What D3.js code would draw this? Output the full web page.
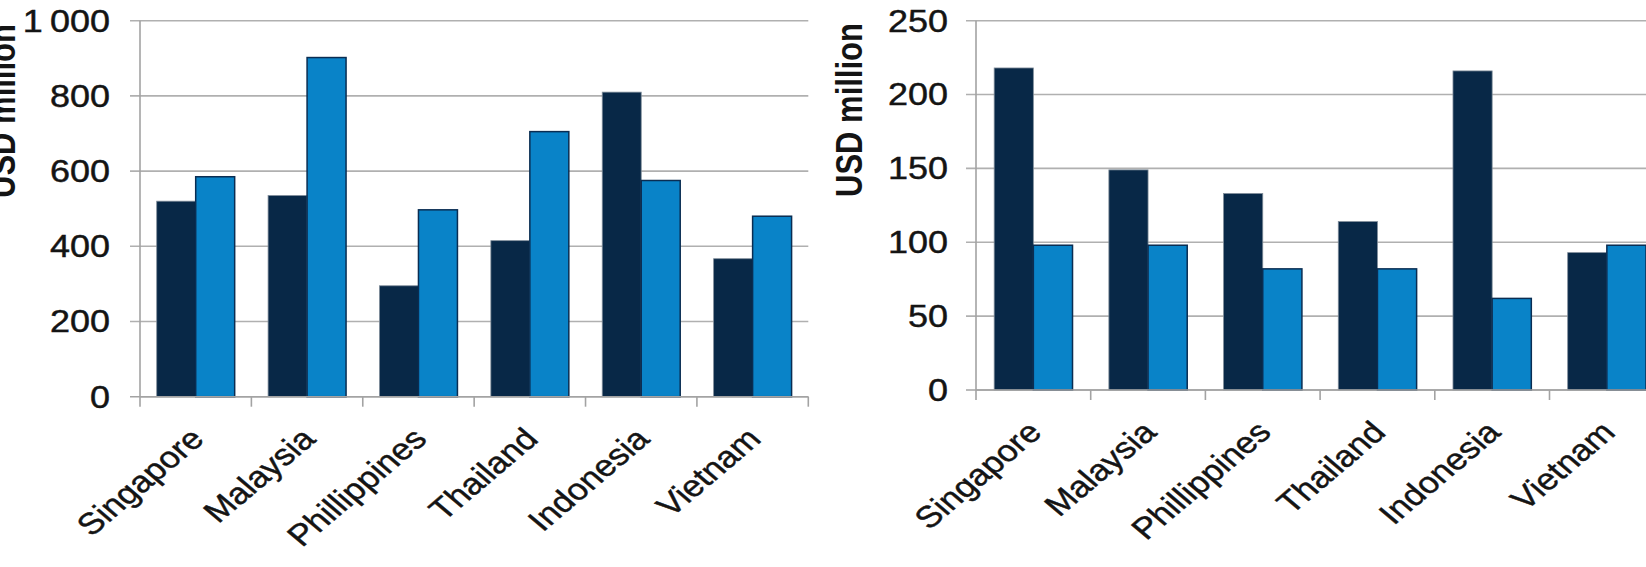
<!DOCTYPE html>
<html>
<head>
<meta charset="utf-8">
<script src="https://cdn.jsdelivr.net/npm/d3@7"></script>
<style>
  html, body { margin: 0; padding: 0; background: #fff; overflow: hidden; }
  svg { display: block; }
  text { font-family: "Liberation Sans", Arial, sans-serif; fill: #141414; }
  text.lab { stroke: #141414; stroke-width: 0.45px; }
</style>
</head>
<body>
<svg id="chart" width="1646" height="567"></svg>
<script>
// Countries shown on both panels
const categories = ["Singapore", "Malaysia", "Phillippines", "Thailand", "Indonesia", "Vietnam"];

// Left panel (USD million)
const leftDark  = [520, 535, 295, 415, 810, 367];
const leftLight = [585, 902, 497, 705, 575, 480];
const leftTicks = [0, 200, 400, 600, 800, 1000];
const leftTickLabels = ["0", "200", "400", "600", "800", "1\u2009000"];

// Right panel (USD million)
const rightDark  = [218, 149, 133, 114, 216, 93];
const rightLight = [98, 98, 82, 82, 62, 98];
const rightTicks = [0, 50, 100, 150, 200, 250];
const rightTickLabels = ["0", "50", "100", "150", "200", "250"];

const axisTitle = "USD million";
const seriesKeys = ["dark", "light"];

const DARK = "#082847";
const LIGHT = "#0983c8";
const GRID = "#b0b0b0";
const AXIS = "#a3a3a3";
const SX = 1.18; // horizontal stretch applied to all text

const svg = d3.select("#chart");

function drawPanel(cfg) {
  const g = svg.append("g");
  const y = d3.scaleLinear().domain([0, cfg.max]).range([cfg.yBottom, cfg.yTop]);
  const x = d3.scaleBand().domain(categories).range([cfg.x0, cfg.x1])
    .paddingInner(cfg.pad).paddingOuter(cfg.pad / 2);
  const xs = d3.scaleBand().domain(seriesKeys).range([0, x.bandwidth()]);

  // horizontal gridlines with small left ticks
  g.selectAll("line.grid").data(cfg.ticks).join("line")
    .attr("x1", cfg.x0 - 10).attr("x2", cfg.gridRight)
    .attr("y1", d => y(d)).attr("y2", d => y(d))
    .attr("stroke", d => d === 0 ? AXIS : GRID)
    .attr("stroke-width", 1.6);

  // y tick labels
  g.selectAll("text.ytick").data(cfg.ticks).join("text")
    .attr("class", "lab")
    .attr("text-anchor", "end")
    .attr("font-size", 30.5)
    .attr("transform", d => `translate(${cfg.labelEnd},${y(d) + 10.8}) scale(${SX},1)`)
    .text((d, i) => cfg.tickLabels[i]);

  // y axis line
  g.append("line")
    .attr("x1", cfg.x0).attr("x2", cfg.x0)
    .attr("y1", y(cfg.max)).attr("y2", y(0))
    .attr("stroke", AXIS).attr("stroke-width", 1.6);

  // category boundary ticks
  const step = x.step();
  const bounds = categories.map(c => x(c) - step * x.paddingInner() / 2);
  bounds.push(bounds[bounds.length - 1] + step);
  g.selectAll("line.xtick").data(bounds).join("line")
    .attr("x1", d => d).attr("x2", d => d)
    .attr("y1", y(0)).attr("y2", y(0) + 10)
    .attr("stroke", AXIS).attr("stroke-width", 1.6);

  // bars
  const rows = categories.map((c, i) => ({ c, dark: cfg.dark[i], light: cfg.light[i] }));
  const groups = g.selectAll("g.cat").data(rows).join("g")
    .attr("transform", d => `translate(${x(d.c)},0)`);
  groups.selectAll("rect").data(d => seriesKeys.map(k => ({ k, v: d[k] }))).join("rect")
    .attr("x", d => xs(d.k))
    .attr("width", xs.bandwidth())
    .attr("y", d => y(d.v))
    .attr("height", d => y(0) - y(d.v))
    .attr("fill", d => d.k === "dark" ? DARK : LIGHT)
    .attr("stroke", d => d.k === "dark" ? "#7f8c99" : "#0a2d52")
    .attr("stroke-width", d => d.k === "dark" ? 0.8 : 1.5);

  // redraw zero line over bar bottoms
  g.append("line")
    .attr("x1", cfg.x0).attr("x2", cfg.gridRight)
    .attr("y1", y(0)).attr("y2", y(0))
    .attr("stroke", AXIS).attr("stroke-width", 1.6);

  // rotated category labels
  g.selectAll("text.xlab").data(categories).join("text")
    .attr("class", "lab")
    .attr("text-anchor", "end")
    .attr("font-size", 30)
    .attr("transform", d => `translate(${x(d) + x.bandwidth() / 2 + 10},${y(0) + 44}) scale(${SX},1) rotate(-45)`)
    .text(d => d);

  // axis title
  g.append("text")
    .attr("text-anchor", "middle")
    .attr("font-size", 31)
    .attr("font-weight", "bold")
    .attr("transform", `translate(${cfg.titleX},${cfg.titleY}) scale(${SX},1) rotate(-90)`)
    .text(axisTitle);
}

drawPanel({
  x0: 140, x1: 808.3, yBottom: 396.7, yTop: 20.7, max: 1000, pad: 0.30,
  ticks: leftTicks, tickLabels: leftTickLabels, dark: leftDark, light: leftLight,
  labelEnd: 110, gridRight: 808.3, titleX: 15, titleY: 111
});

drawPanel({
  x0: 976, x1: 1664.2, yBottom: 390, yTop: 20.7, max: 250, pad: 0.317,
  ticks: rightTicks, tickLabels: rightTickLabels, dark: rightDark, light: rightLight,
  labelEnd: 948, gridRight: 1646, titleX: 862, titleY: 110
});
</script>
</body>
</html>
